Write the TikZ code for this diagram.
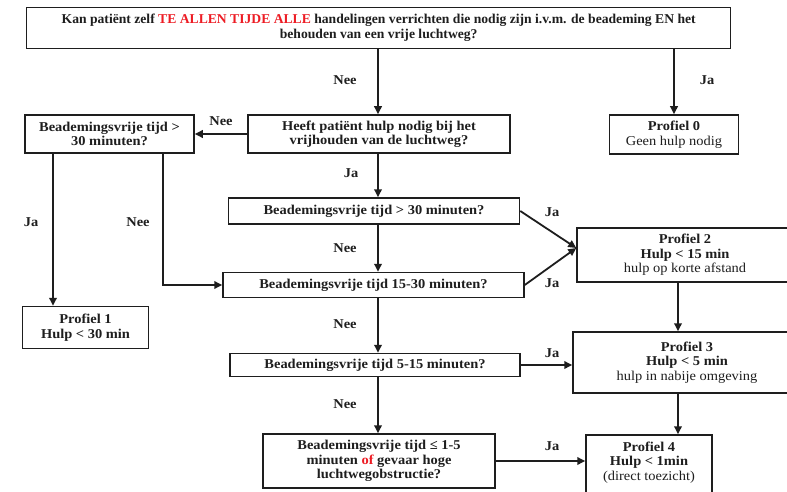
\documentclass[tikz,border=0pt]{standalone}
\usepackage{fontspec}
\setmainfont{Liberation Serif}[FakeStretch=1.07]
\newfontfamily\topfont{Liberation Serif}[FakeStretch=1.01]
\usetikzlibrary{arrows.meta}
\definecolor{myred}{RGB}{237,28,36}
\definecolor{ink}{RGB}{30,30,30}
\begin{document}
\begin{tikzpicture}[x=1pt,y=-1pt,
  box/.style={draw=ink, line width=1.5pt, align=center, inner sep=0pt, text=ink,
    font=\bfseries\fontsize{13.5}{14.5}\selectfont},
  arr/.style={draw=ink, line width=1.8pt, -{Triangle[length=8pt,width=7.5pt]}},
  lab/.style={text=ink, inner sep=0pt, font=\bfseries\fontsize{13.5}{14.5}\selectfont}]
\useasboundingbox (0,0) rectangle (787,492);
\clip (0,0) rectangle (787,492);
\fill[white] (0,0) rectangle (787,492);
% nodes
\node[box, minimum width=704pt, minimum height=41pt,
  font=\topfont\bfseries\fontsize{13.5}{14.5}\selectfont] (top) at (378.7,27.8)
  {Kan patiënt zelf \textcolor{myred}{TE ALLEN TIJDE ALLE} handelingen verrichten die nodig zijn i.v.m. de beademing EN het\\behouden van een vrije luchtweg?};
\node[box, minimum width=262pt, minimum height=38pt] (heeft) at (379,134)
  {Heeft patiënt hulp nodig bij het\\vrijhouden van de luchtweg?};
\node[box, minimum width=129pt, minimum height=39pt] (p0) at (674,134.5)
  {Profiel 0\\{\mdseries Geen hulp nodig}};
\node[box, minimum width=169pt, minimum height=38pt] (left30) at (109.5,134)
  {Beademingsvrije tijd >\\30 minuten?};
\node[box, minimum width=126pt, minimum height=42pt] (p1) at (85.5,327.5)
  {Profiel 1\\Hulp < 30 min};
\node[box, minimum width=291pt, minimum height=26pt] (b30) at (374,211)
  {Beademingsvrije tijd > 30 minuten?};
\node[box, minimum width=301pt, minimum height=25pt] (b1530) at (373.5,285)
  {Beademingsvrije tijd 15-30 minuten?};
\node[box, minimum width=290pt, minimum height=23pt] (b515) at (375,365)
  {Beademingsvrije tijd 5-15 minuten?};
\node[box, minimum width=232pt, minimum height=54pt] (b15) at (379,461)
  {Beademingsvrije tijd ≤ 1-5\\minuten \textcolor{myred}{of} gevaar hoge\\luchtwegobstructie?};
\node[box, minimum width=216pt, minimum height=54pt] (p2) at (685,255)
  {Profiel 2\\Hulp < 15 min\\{\mdseries hulp op korte afstand}};
\node[box, minimum width=228pt, minimum height=61pt] (p3) at (687,362.5)
  {Profiel 3\\Hulp < 5 min\\{\mdseries hulp in nabije omgeving}};
\node[box, minimum width=126pt, minimum height=66pt] (p4) at (649,468)
  {Profiel 4\\Hulp < 1min\\{\mdseries (direct toezicht)}\\~};
% helper coordinates
\coordinate (sp) at (378,0);
\coordinate (c1) at (53,0);
\coordinate (c2) at (163,0);
\coordinate (c3) at (678,0);
\coordinate (p2in) at ([yshift=7pt]p2.west);
% connectors
\draw[arr] (top.south -| sp) -- (heeft.north -| sp);
\draw[arr] (top.south -| p0.north) -- (p0.north);
\draw[arr] (heeft.west) -- (left30.east);
\draw[arr] (left30.south -| c1) -- (p1.north -| c1);
\draw[arr] (left30.south -| c2) |- (b1530.west);
\draw[arr] (heeft.south -| sp) -- (b30.north -| sp);
\draw[arr] (b30.south -| sp) -- (b1530.north -| sp);
\draw[arr] (b1530.south -| sp) -- (b515.north -| sp);
\draw[arr] (b515.south -| sp) -- (b15.north -| sp);
\draw[arr] (b30.east) -- (p2in);
\draw[arr] (b1530.east) -- (p2in);
\draw[arr] (p2.south -| c3) -- (p3.north -| c3);
\draw[arr] (p3.south -| c3) -- (p4.north -| c3);
\draw[arr] (b515.east) -- (b515.east -| p3.west);
\draw[arr] (b15.east) -- (b15.east -| p4.west);
% labels
\node[lab] (l1) at (345,80) {Nee};
\node[lab] (l2) at (707,80) {Ja};
\node[lab] (l3) at (221,121) {Nee};
\node[lab] (l4) at (31,222) {Ja};
\node[lab] (l5) at (138,222) {Nee};
\node[lab] (l6) at (351,173) {Ja};
\node[lab] (l7) at (345,248) {Nee};
\node[lab] (l8) at (345,324) {Nee};
\node[lab] (l9) at (345,404) {Nee};
\node[lab] (l10) at (552,212) {Ja};
\node[lab] (l11) at (552,283) {Ja};
\node[lab] (l12) at (552,353) {Ja};
\node[lab] (l13) at (552,446) {Ja};
\end{tikzpicture}
\end{document}
